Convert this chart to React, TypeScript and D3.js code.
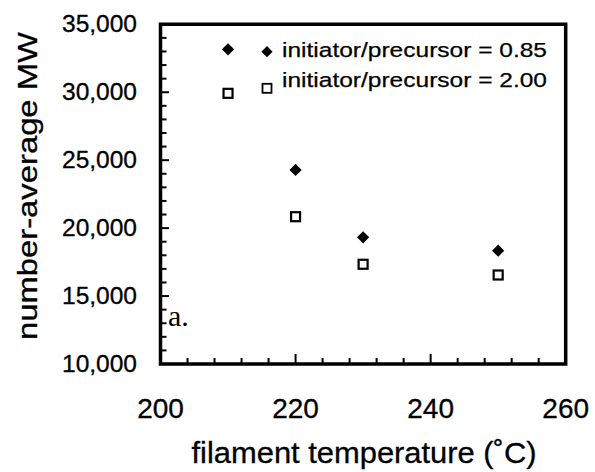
import React from "react";
import * as d3 from "d3";

const temps085 = [210, 220, 230, 250];
const mw085 = [33160, 24280, 19320, 18340];
const temps200 = [210, 220, 230, 250];
const mw200 = [29920, 20840, 17340, 16550];
const xTickLabels = [200, 220, 240, 260];
const yTickLabels = [10000, 15000, 20000, 25000, 30000, 35000];
const legendLabels = ["initiator/precursor = 0.85", "initiator/precursor = 2.00"];

const W = 595;
const H = 472;
const left = 160.5, right = 565.7, top = 24.3, bottom = 364;

export default function App() {
  const x = d3.scaleLinear().domain([200, 260]).range([left, right]);
  const y = d3.scaleLinear().domain([10000, 35000]).range([bottom, top]);
  const fmt = d3.format(",");
  const xMinor = d3.range(200, 260.1, 4);
  const yMinor = d3.range(10000, 35000.1, 1000);
  const diamond = d3.symbol().type(d3.symbolDiamond2).size(95)() as string;
  const diamondSmall = d3.symbol().type(d3.symbolDiamond2).size(80)() as string;
  const font = "Liberation Sans, Arial, Helvetica, sans-serif";

  return (
    <svg width={W} height={H} viewBox={`0 0 ${W} ${H}`} style={{ position: "absolute", left: 0, top: 0, display: "block" }}>
      <rect x={0} y={0} width={W} height={H} fill="#fff" />
      {/* frame */}
      <path
        d={`M${left},${top}H${right}V${bottom}H${left}Z`}
        fill="none"
        stroke="#000"
        strokeWidth={3.5}
        strokeLinejoin="miter"
      />
      {/* minor/major ticks */}
      {xMinor.map((v) => {
        const major = xTickLabels.includes(v);
        return (
          <line key={"xt" + v} x1={x(v)} x2={x(v)} y1={bottom} y2={bottom - (major ? 10 : 6)} stroke="#000" strokeWidth={2} />
        );
      })}
      {yMinor.map((v) => {
        const major = yTickLabels.includes(v);
        return (
          <line key={"yt" + v} x1={left} x2={left + (major ? 8.5 : 6)} y1={y(v)} y2={y(v)} stroke="#000" strokeWidth={2} />
        );
      })}
      {/* tick labels */}
      {xTickLabels.map((v) => (
        <text key={"xl" + v} x={x(v)} y={418.3} textAnchor="middle" fontFamily={font} fontSize={28} fill="#000" stroke="#000" strokeWidth={0.3}>
          {v}
        </text>
      ))}
      {yTickLabels.map((v) => (
        <text key={"yl" + v} x={137} y={y(v) + 8} textAnchor="end" fontFamily={font} fontSize={23} textLength={75} lengthAdjust="spacingAndGlyphs" fill="#000" stroke="#000" strokeWidth={0.3}>
          {fmt(v)}
        </text>
      ))}
      {/* axis titles */}
      <text x={364} y={463.3} textAnchor="middle" fontFamily={font} fontSize={29} textLength={345} lengthAdjust="spacingAndGlyphs" fill="#000" stroke="#000" strokeWidth={0.3}>
        filament temperature (˚C)
      </text>
      <text transform="translate(36.7,186) rotate(-90)" textAnchor="middle" fontFamily={font} fontSize={27} textLength={308} lengthAdjust="spacingAndGlyphs" fill="#000" stroke="#000" strokeWidth={0.3}>
        number-average MW
      </text>
      {/* panel label */}
      <text x={168} y={326} fontFamily="Liberation Serif, Times New Roman, serif" fontSize={30} fill="#000">
        a.
      </text>
      {/* data */}
      {temps085.map((t, i) => (
        <path key={"d" + i} d={diamond} transform={`translate(${x(t)},${y(mw085[i])})`} fill="#000" />
      ))}
      {temps200.map((t, i) => (
        <rect key={"s" + i} x={x(t) - 4.5} y={y(mw200[i]) - 4.5} width={9} height={9} fill="#fff" stroke="#000" strokeWidth={2.2} />
      ))}
      {/* legend */}
      <path d={diamondSmall} transform="translate(267,51.7)" fill="#000" />
      <rect x={262.5} y={83.8} width={9} height={9} fill="#fff" stroke="#000" strokeWidth={1.8} />
      {legendLabels.map((l, i) => (
        <text key={"lg" + i} x={282} y={57.3 + i * 30} fontFamily={font} fontSize={20.5} textLength={265} lengthAdjust="spacingAndGlyphs" fill="#000" stroke="#000" strokeWidth={0.25}>
          {l}
        </text>
      ))}
    </svg>
  );
}
